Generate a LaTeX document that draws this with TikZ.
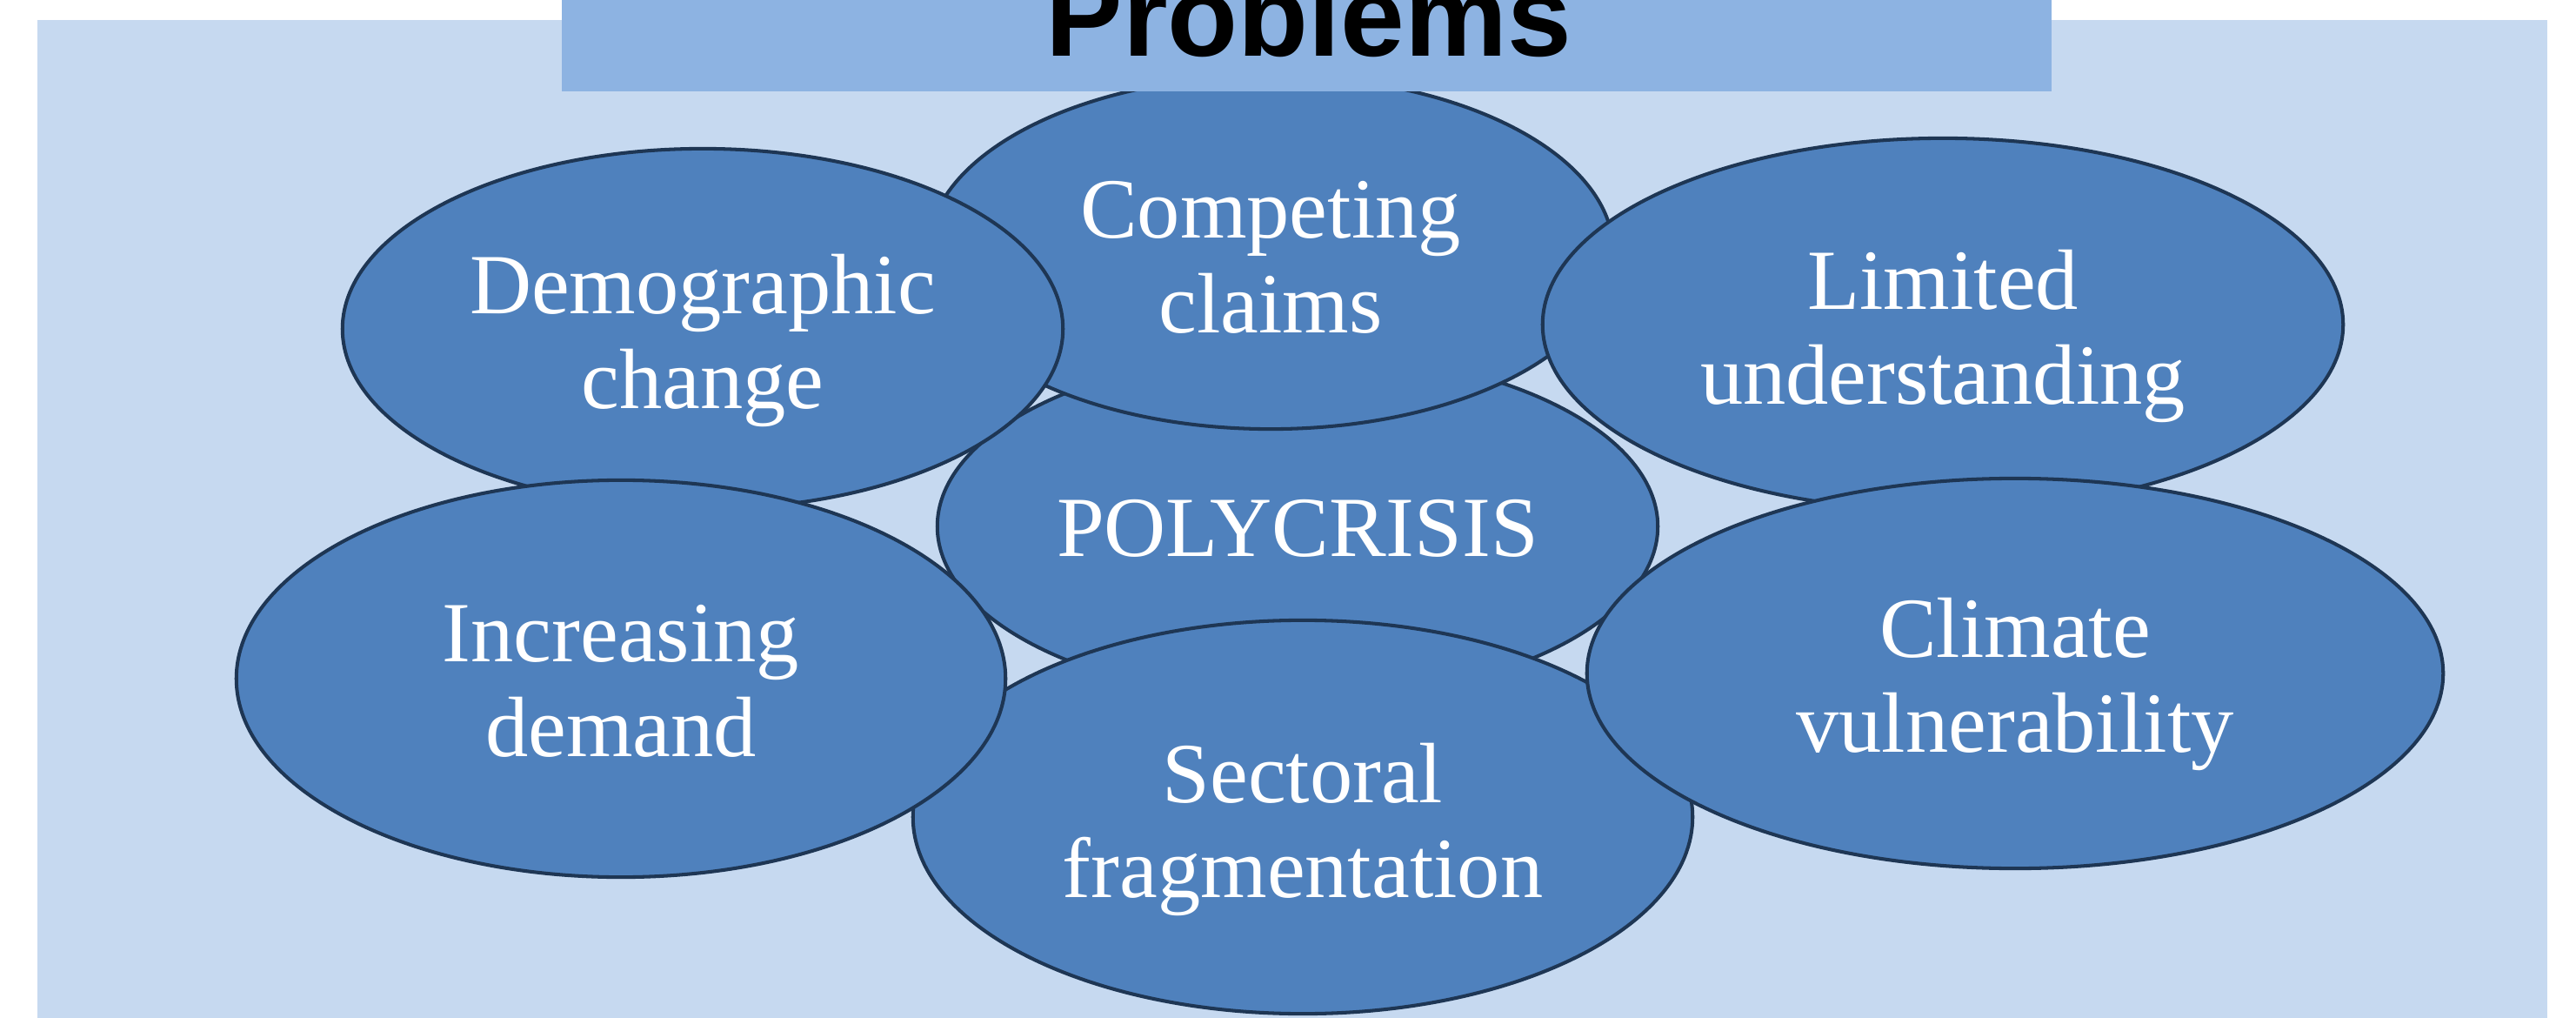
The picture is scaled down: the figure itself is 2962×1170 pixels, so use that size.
\documentclass[tikz,border=0pt]{standalone}
\usepackage{fontspec}
\setmainfont{Liberation Serif}
\newfontfamily\titlefont{Liberation Sans}
\usetikzlibrary{shapes.geometric}
\definecolor{panelbg}{HTML}{C6D9F0}
\definecolor{titlebg}{HTML}{8DB3E2}
\definecolor{ellfill}{HTML}{4F81BD}
\definecolor{elledge}{RGB}{30,54,84}
\tikzset{
  bubble/.style={ellipse, draw=elledge, fill=ellfill, line width=1.15pt, inner sep=0pt},
  btext/.style={text=white, align=center, inner sep=0pt, font=\fontsize{28}{31}\selectfont},
}
\begin{document}
\begin{tikzpicture}[x=0.01cm, y=-0.01cm]
\useasboundingbox (0,0) rectangle (2962,1170);
\fill[white] (0,0) rectangle (2962,1170);
\fill[panelbg] (43,23) rectangle (2929,1200);
% ellipses, back to front
\node[bubble, minimum width=8.28cm, minimum height=4.00cm] (poly) at (1492,605) {};
\node[btext, yshift=-0.02cm] (poly-t) at (poly.center) {POLYCRISIS};
\node[bubble, minimum width=7.88cm, minimum height=4.06cm] (comp) at (1461,290) {};
\node[btext, yshift=-0.06cm] (comp-t) at (comp.center) {Competing\\claims};
\node[bubble, minimum width=8.28cm, minimum height=4.14cm] (demo) at (808,378) {};
\node[btext, yshift=-0.13cm] (demo-t) at (demo.center) {Demographic\\change};
\node[bubble, minimum width=9.20cm, minimum height=4.28cm] (lim) at (2234,373) {};
\node[btext, yshift=-0.13cm] (lim-t) at (lim.center) {Limited\\understanding};
\node[bubble, minimum width=8.96cm, minimum height=4.52cm] (sect) at (1498,939) {};
\node[btext, yshift=-0.14cm] (sect-t) at (sect.center) {Sectoral\\fragmentation};
\node[bubble, minimum width=8.84cm, minimum height=4.56cm] (inc) at (714,780) {};
\node[btext, yshift=-0.03cm] (inc-t) at (inc.center) {Increasing\\demand};
\node[bubble, minimum width=9.84cm, minimum height=4.48cm] (clim) at (2317,774) {};
\node[btext, yshift=-0.12cm] (clim-t) at (clim.center) {Climate\\vulnerability};
% title bar
\fill[titlebg] (646,-60) rectangle (2359,105);
\node[anchor=base, inner sep=0pt, font=\titlefont\bfseries\fontsize{37.7}{40}\selectfont] (title) at (1505,65) {Problems};
\end{tikzpicture}
\end{document}
